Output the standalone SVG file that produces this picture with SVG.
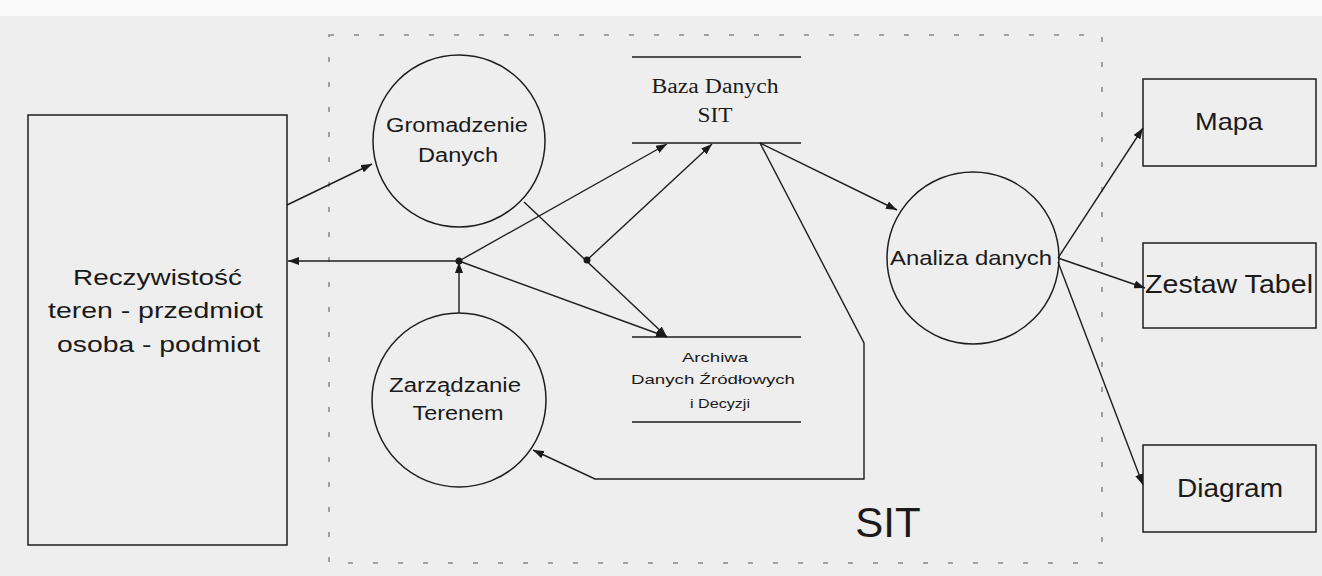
<svg xmlns="http://www.w3.org/2000/svg" width="1322" height="576" viewBox="0 0 1322 576">
<style>
.bg{fill:#eeeeee}
.sh{fill:none;stroke:#1e1e1e;stroke-width:1.5}
.ln{fill:none;stroke:#1e1e1e;stroke-width:1.4}
.sans{font-family:"Liberation Sans",Arial,sans-serif;fill:#1a1a1a;text-anchor:middle}
.serif{font-family:"Liberation Serif","Times New Roman",serif;fill:#1a1a1a;text-anchor:middle}
.dash{fill:none;stroke:#8a8a8a;stroke-width:1.6;stroke-dasharray:5 20}
</style>
<defs>
<marker id="arr" markerUnits="userSpaceOnUse" markerWidth="11" markerHeight="8" refX="11" refY="4" orient="auto">
<path d="M0,0 L11,4 L0,8 z" fill="#1a1a1a"/>
</marker>
</defs>
<rect class="bg" x="0" y="0" width="1322" height="576"/>
<rect x="0" y="0" width="1322" height="16" fill="#f9f9f9"/>
<rect class="dash" x="329" y="35" width="773" height="528"/>

<g id="rzeczywistosc">
<rect class="sh" x="28" y="115" width="259" height="430" fill="#efefef"/>
<text class="sans" font-size="22" x="157.5" y="285" textLength="169" lengthAdjust="spacingAndGlyphs">Reczywistość</text>
<text class="sans" font-size="22" x="155.5" y="318" textLength="215" lengthAdjust="spacingAndGlyphs">teren - przedmiot</text>
<text class="sans" font-size="22" x="158.5" y="352" textLength="203" lengthAdjust="spacingAndGlyphs">osoba - podmiot</text>
</g>

<g id="gromadzenie">
<circle class="sh" cx="459" cy="141" r="86"/>
<text class="sans" font-size="20" x="457" y="132" textLength="142" lengthAdjust="spacingAndGlyphs">Gromadzenie</text>
<text class="sans" font-size="20" x="458" y="162" textLength="80" lengthAdjust="spacingAndGlyphs">Danych</text>
</g>

<g id="zarzadzanie">
<circle class="sh" cx="459" cy="400" r="87"/>
<text class="sans" font-size="20" x="455" y="392" textLength="132" lengthAdjust="spacingAndGlyphs">Zarządzanie</text>
<text class="sans" font-size="20" x="458" y="420" textLength="91" lengthAdjust="spacingAndGlyphs">Terenem</text>
</g>

<g id="baza">
<path class="sh" d="M632,57 H801 M632,143 H801"/>
<text class="serif" font-size="20" x="715" y="93" textLength="127" lengthAdjust="spacingAndGlyphs">Baza Danych</text>
<text class="serif" font-size="20" x="715" y="122" textLength="35" lengthAdjust="spacingAndGlyphs">SIT</text>
</g>

<g id="archiwa">
<path class="sh" d="M632,337 H801 M632,422 H801"/>
<text class="sans" font-size="13" x="715" y="362" textLength="66" lengthAdjust="spacingAndGlyphs">Archiwa</text>
<text class="sans" font-size="13" x="713" y="384" textLength="164" lengthAdjust="spacingAndGlyphs">Danych Źródłowych</text>
<text class="sans" font-size="13" x="720" y="408" textLength="60" lengthAdjust="spacingAndGlyphs">i Decyzji</text>
</g>

<g id="analiza">
<circle class="sh" cx="973" cy="258" r="86"/>
<text class="sans" font-size="21" x="971" y="265" textLength="162" lengthAdjust="spacingAndGlyphs">Analiza danych</text>
</g>

<g id="mapa">
<rect class="sh" x="1143" y="79" width="173" height="87"/>
<text class="sans" font-size="24" x="1229" y="130" textLength="68" lengthAdjust="spacingAndGlyphs">Mapa</text>
</g>

<g id="zestaw">
<rect class="sh" x="1143" y="243" width="173" height="85"/>
<text class="sans" font-size="26" x="1229" y="293" textLength="168" lengthAdjust="spacingAndGlyphs">Zestaw Tabel</text>
</g>

<g id="diagram">
<rect class="sh" x="1143" y="445" width="173" height="87"/>
<text class="sans" font-size="26" x="1230" y="497" textLength="106" lengthAdjust="spacingAndGlyphs">Diagram</text>
</g>

<g id="sit-label">
<text class="sans" font-size="42" x="888" y="537">SIT</text>
</g>

<g id="connectors">
<path class="ln" d="M287,205 L372,164" marker-end="url(#arr)"/>
<path class="ln" d="M459,261 L288,261" marker-end="url(#arr)"/>
<path class="ln" d="M459,313 L459,262" marker-end="url(#arr)"/>
<path class="ln" d="M459,261 L667,144" marker-end="url(#arr)"/>
<path class="ln" d="M459,261 L667,337" marker-end="url(#arr)"/>
<path class="ln" d="M524,202 L667,337" marker-end="url(#arr)"/>
<path class="ln" d="M587,260 L712,144" marker-end="url(#arr)"/>
<path class="ln" d="M760,143 L897,210" marker-end="url(#arr)"/>
<path class="ln" d="M760,143 L864,343 L864,479 L595,479 L533,450" marker-end="url(#arr)"/>
<path class="ln" d="M1058,258 L1143,128" marker-end="url(#arr)"/>
<path class="ln" d="M1058,258 L1145,288" marker-end="url(#arr)"/>
<path class="ln" d="M1058,262 L1143,485" marker-end="url(#arr)"/>
<circle cx="459" cy="261" r="3.5" fill="#1a1a1a"/>
<circle cx="587" cy="260" r="3.5" fill="#1a1a1a"/>
</g>
</svg>
